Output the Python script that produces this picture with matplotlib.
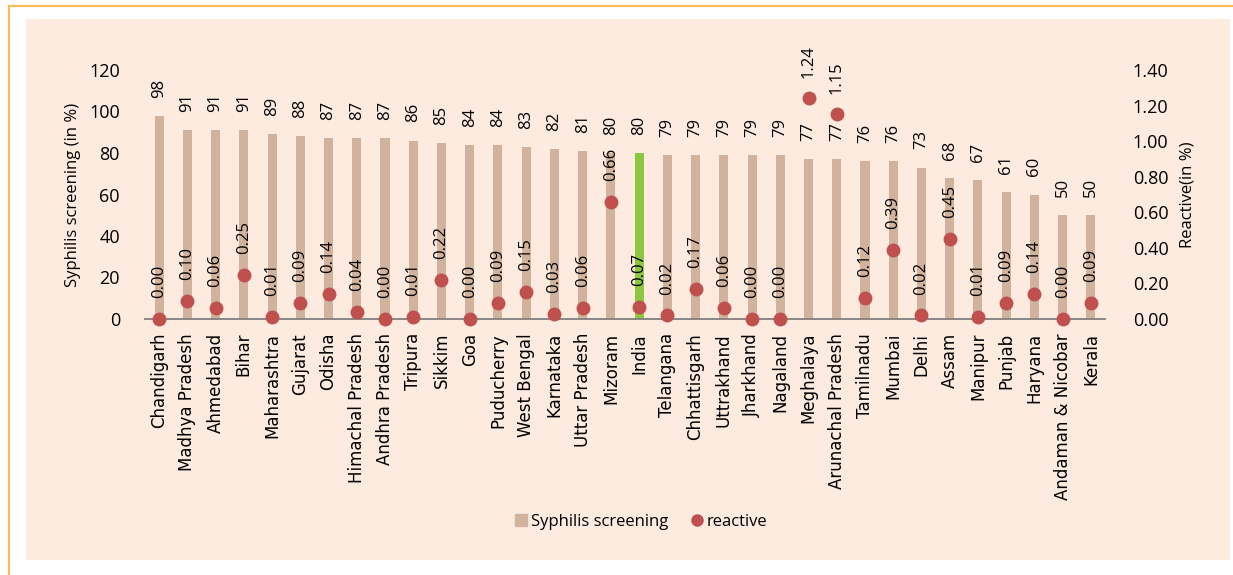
'''syphilis screening vs reactive, by state'''

import numpy as np
import matplotlib
matplotlib.use("Agg")
import matplotlib.pyplot as plt
from matplotlib.patches import Rectangle
from matplotlib.lines import Line2D

# data
states = ["Chandigarh", "Madhya Pradesh", "Ahmedabad", "Bihar", "Maharashtra", "Gujarat",
          "Odisha", "Himachal Pradesh", "Andhra Pradesh", "Tripura", "Sikkim", "Goa",
          "Puducherry", "West Bengal", "Karnataka", "Uttar Pradesh", "Mizoram", "India",
          "Telangana", "Chhattisgarh", "Uttrakhand", "Jharkhand", "Nagaland", "Meghalaya",
          "Arunachal Pradesh", "Tamilnadu", "Mumbai", "Delhi", "Assam", "Manipur",
          "Punjab", "Haryana", "Andaman & Nicobar", "Kerala"]
screening = [98, 91, 91, 91, 89, 88, 87, 87, 87, 86, 85, 84, 84, 83, 82, 81, 80, 80,
             79, 79, 79, 79, 79, 77, 77, 76, 76, 73, 68, 67, 61, 60, 50, 50]
reactive = [0.00, 0.10, 0.06, 0.25, 0.01, 0.09, 0.14, 0.04, 0.00, 0.01, 0.22, 0.00,
            0.09, 0.15, 0.03, 0.06, 0.66, 0.07, 0.02, 0.17, 0.06, 0.00, 0.00, 1.24,
            1.15, 0.12, 0.39, 0.02, 0.45, 0.01, 0.09, 0.14, 0.00, 0.09]

tan = "#d1b29c"
green = "#8dc63f"
red = "#c0504d"
peach = "#fdebe0"

plt.rcParams["font.family"] = ["Open Sans", "DejaVu Sans"]

fig = plt.figure(figsize=(12.33, 5.75), dpi=100)
fig.patch.set_facecolor("white")
W, H = 1233, 575

# panel background and the orange frame
fig.patches.append(Rectangle((26 / W, 1 - 560 / H), (1230 - 26) / W, (560 - 19) / H,
                             transform=fig.transFigure, facecolor=peach, edgecolor="none", zorder=-5))
fig.lines.append(Line2D([9 / W, 1], [1 - 6 / H, 1 - 6 / H], transform=fig.transFigure,
                        color="#fbb957", lw=1.5))
fig.lines.append(Line2D([9 / W, 9 / W], [0, 1 - 6 / H], transform=fig.transFigure,
                        color="#fbb957", lw=1.5))

ax = fig.add_axes([145 / W, 1 - 319 / H, (1105 - 145) / W, (319 - 70) / H])
ax.set_facecolor("none")
x = np.arange(len(states))
colors = [green if s == "India" else tan for s in states]
bars = ax.bar(x, screening, width=0.32, color=colors, zorder=2)
ax.set_xlim(-0.5, len(states) - 0.5)
ax.set_ylim(0, 120)
ax.set_yticks(range(0, 121, 20))
ax.set_xticks(x)
ax.set_xticklabels(states, rotation=90, fontsize=12, family="DejaVu Sans")
ax.tick_params(axis="x", length=0, pad=10)
ax.tick_params(axis="y", length=0, labelsize=13, pad=18)
for s in ["top", "right", "left"]:
    ax.spines[s].set_visible(False)
ax.spines["bottom"].set_color("#808080")
ax.spines["bottom"].set_linewidth(1.3)
ax.set_ylabel("Syphilis screening (in %)", fontsize=12, labelpad=6)

for xi, v in zip(x, screening):
    ax.annotate(str(v), (xi, v), xytext=(0, 13), textcoords="offset points",
                rotation=90, ha="center", va="bottom", fontsize=12, zorder=4)

ax2 = ax.twinx()
ax2.set_ylim(0, 1.4)
ax2.set_yticks(np.arange(0, 1.41, 0.2))
ax2.set_yticklabels(["%.2f" % t for t in np.arange(0, 1.41, 0.2)])
ax2.tick_params(axis="y", length=0, labelsize=13, pad=20)
for s in ["top", "right", "left", "bottom"]:
    ax2.spines[s].set_visible(False)
ax2.plot(x, reactive, "o", color=red, markersize=9, zorder=5, clip_on=False)
ax2.set_ylabel("Reactive(in %)", fontsize=12, labelpad=8)

for xi, v in zip(x, reactive):
    ax2.annotate("%.2f" % v, (xi, v), xytext=(0, 15), textcoords="offset points",
                 rotation=90, ha="center", va="bottom", fontsize=12, zorder=6)

handles = [Line2D([], [], marker="s", color=tan, linestyle="none", markersize=9),
           Line2D([], [], marker="o", color=red, linestyle="none", markersize=8)]
fig.legend(handles, ["Syphilis screening", "reactive"], loc="center",
           bbox_to_anchor=(640 / W, 1 - 522 / H), ncol=2, frameon=False, fontsize=12,
           handletextpad=0.1, columnspacing=1.2, handlelength=1.0)

fig.savefig("out.png", dpi=100, facecolor=fig.get_facecolor())
